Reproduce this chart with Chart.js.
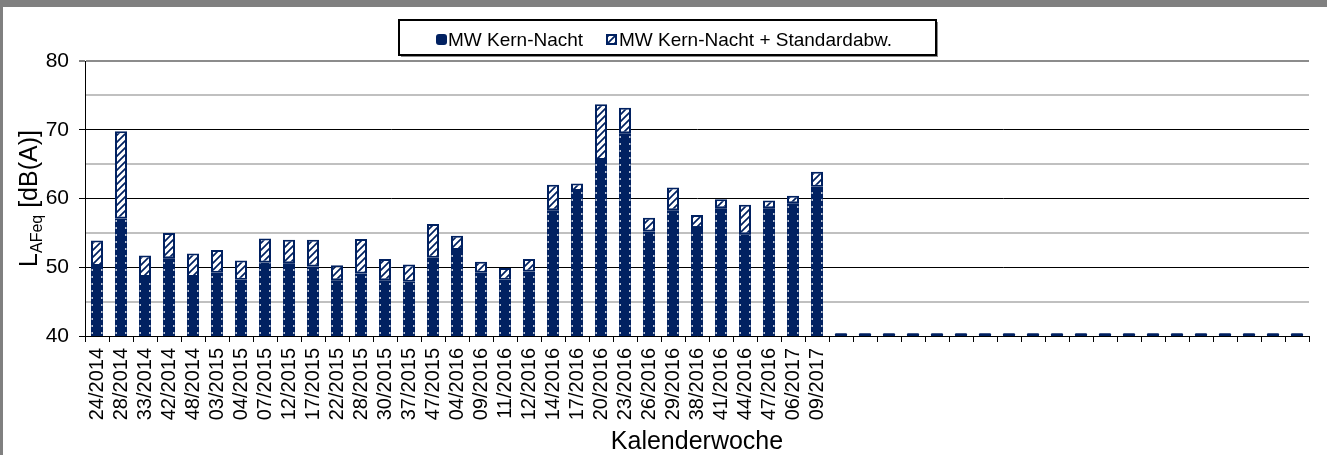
<!DOCTYPE html>
<html>
<head>
<meta charset="utf-8">
<script src="https://cdn.jsdelivr.net/npm/chart.js@4.4.1/dist/chart.umd.min.js"></script>
<style>
html,body{margin:0;padding:0;background:#fff;overflow:hidden;width:1327px;height:455px;}
#wrap{position:relative;width:1327px;height:455px;overflow:hidden;background:#fff;}
#c{position:absolute;left:0;top:0;width:1327px;height:455px;display:block;}
#frameTop{position:absolute;left:0;top:0;width:1327px;height:7px;background:#808080;}
#frameLeft{position:absolute;left:0;top:0;width:3px;height:455px;background:#808080;}
</style>
</head>
<body>
<div id="wrap">
  <canvas id="c" width="1327" height="455"></canvas>
  <div id="frameTop"></div>
  <div id="frameLeft"></div>
</div>
<script>
// ---- data ----
const kalenderwochen = [
  '24/2014','28/2014','33/2014','42/2014','48/2014','03/2015','04/2015','07/2015','12/2015','17/2015',
  '22/2015','28/2015','30/2015','37/2015','47/2015','04/2016','09/2016','11/2016','12/2016','14/2016',
  '17/2016','20/2016','23/2016','26/2016','29/2016','38/2016','41/2016','44/2016','47/2016','06/2017',
  '09/2017',
  '','','','','','','','','','','','','','','','','','','',''
];
// Mittelwert Kern-Nacht [dB(A)]
const mwKernNacht = [
  50.2, 57.1, 48.6, 51.3, 48.6, 49.2, 48.2, 50.7, 50.6, 50.1,
  48.1, 49.1, 48.1, 47.9, 51.4, 52.5, 49.2, 48.2, 49.4, 58.3,
  61.1, 65.6, 69.5, 55.2, 58.3, 55.7, 58.6, 54.8, 58.6, 59.3,
  61.7,
  40.4, 40.4, 40.4, 40.4, 40.4, 40.4, 40.4, 40.4, 40.4, 40.4,
  40.4, 40.4, 40.4, 40.4, 40.4, 40.4, 40.4, 40.4, 40.4, 40.4
];
// Standardabweichung (gestapelt auf MW) [dB]
const standardabw = [
  3.7, 12.7, 3.1, 3.7, 3.4, 3.3, 2.8, 3.5, 3.4, 3.9,
  2.2, 5.0, 3.1, 2.5, 4.9, 2.1, 1.6, 1.7, 1.8, 3.7,
  1.1, 8.1, 3.7, 2.0, 3.3, 1.9, 1.3, 4.3, 1.1, 1.1,
  2.2,
  null, null, null, null, null, null, null, null, null, null,
  null, null, null, null, null, null, null, null, null, null
];
const yTicks = { min: 40, max: 80, step: 5, labelStep: 10 };
const seriesLabels = ['MW Kern-Nacht', 'MW Kern-Nacht + Standardabw.'];
const axisTitleX = 'Kalenderwoche';

// ---- styles ----
const NAVY = '#012161';
const FONT = '"Liberation Sans", Arial, sans-serif';

function makeHatch() {
  const s = 7;
  const c = document.createElement('canvas');
  c.width = s; c.height = s;
  const g = c.getContext('2d');
  g.fillStyle = '#ffffff';
  g.fillRect(0, 0, s, s);
  g.strokeStyle = NAVY;
  g.lineWidth = 1.7;
  g.beginPath();
  g.moveTo(-1, s + 1); g.lineTo(s + 1, -1);
  g.moveTo(-1, 1); g.lineTo(1, -1);
  g.moveTo(s - 1, s + 1); g.lineTo(s + 1, s - 1);
  g.stroke();
  return g.createPattern(c, 'repeat');
}
const hatch = makeHatch();

// dotted white edges on the MW bars
const barEdgePlugin = {
  id: 'barEdges',
  afterDatasetsDraw(chart) {
    const ctx = chart.ctx;
    const meta = chart.getDatasetMeta(0);
    const area = chart.chartArea;
    ctx.save();
    ctx.beginPath();
    ctx.rect(area.left, area.top, area.right - area.left, area.bottom - area.top);
    ctx.clip();
    ctx.strokeStyle = 'rgba(255,255,255,0.85)';
    ctx.lineWidth = 1.3;
    ctx.setLineDash([2, 5]);
    meta.data.forEach((el, i) => {
      const v = mwKernNacht[i];
      if (v == null || v < 41) return;
      const p = el.getProps(['x', 'y', 'base', 'width'], true);
      const bottom = Math.min(p.base, area.bottom);
      [p.x - p.width / 2 + 1.2, p.x + p.width / 2 - 1.2].forEach(xx => {
        ctx.beginPath();
        ctx.moveTo(xx, bottom - 2);
        ctx.lineTo(xx, p.y + 1);
        ctx.stroke();
      });
    });
    ctx.restore();
  }
};

// legend box + y axis title (with subscript)
const decorPlugin = {
  id: 'decor',
  afterDraw(chart) {
    const ctx = chart.ctx;
    ctx.save();
    // legend
    const bx = 399, by = 20, bw = 537, bh = 35;
    ctx.fillStyle = '#8a8a8a';
    ctx.fillRect(bx + 2, by + 2, bw, bh);
    ctx.fillStyle = '#ffffff';
    ctx.fillRect(bx, by, bw, bh);
    ctx.strokeStyle = '#000';
    ctx.lineWidth = 2;
    ctx.strokeRect(bx, by, bw, bh);
    ctx.font = '19px ' + FONT;
    ctx.textBaseline = 'alphabetic';
    const ds = chart.data.datasets;
    // item 1
    ctx.fillStyle = NAVY;
    ctx.beginPath();
    if (ctx.roundRect) ctx.roundRect(436, 34, 11, 11, 3); else ctx.rect(436, 34, 11, 11);
    ctx.fill();
    ctx.fillStyle = '#000';
    ctx.fillText(ds[0].label, 448, 46);
    // item 2
    const x2 = 606;
    ctx.fillStyle = hatch;
    ctx.fillRect(x2, 34, 11, 11);
    ctx.strokeStyle = NAVY;
    ctx.lineWidth = 2;
    ctx.strokeRect(x2 + 1, 35, 9, 9);
    ctx.fillStyle = '#000';
    ctx.fillText(ds[1].label, x2 + 13, 46);

    // y axis title
    const a = chart.chartArea;
    const cy = (a.top + a.bottom) / 2;
    ctx.translate(37, cy);
    ctx.rotate(-Math.PI / 2);
    const fMain = '25px ' + FONT, fSub = '16px ' + FONT;
    ctx.font = fMain; const wL = ctx.measureText('L').width;
    const wRest = ctx.measureText(' [dB(A)]').width;
    ctx.font = fSub; const wSub = ctx.measureText('AFeq').width;
    let x0 = -(wL + wSub + wRest) / 2;
    ctx.fillStyle = '#000';
    ctx.font = fMain; ctx.fillText('L', x0, 0);
    ctx.font = fSub; ctx.fillText('AFeq', x0 + wL, 5);
    ctx.font = fMain; ctx.fillText(' [dB(A)]', x0 + wL + wSub, 0);
    ctx.restore();
  }
};

function gridColor(ctx) {
  const v = ctx.tick ? ctx.tick.value : null;
  if (v === yTicks.min) return '#000';
  if (v === yTicks.max) return '#8c8c8c';
  if (v % yTicks.labelStep === 0) return '#000';
  return '#c0c0c0';
}
function gridWidth(ctx) {
  const v = ctx.tick ? ctx.tick.value : null;
  if (v === yTicks.max) return 2;
  if (v % yTicks.labelStep === 0) return 1;
  return 2;
}
function tickColor(ctx) {
  const v = ctx.tick ? ctx.tick.value : null;
  return (v % yTicks.labelStep === 0) ? '#000' : 'rgba(0,0,0,0)';
}

new Chart(document.getElementById('c'), {
  type: 'bar',
  data: {
    labels: kalenderwochen,
    datasets: [
      {
        label: seriesLabels[0],
        data: mwKernNacht,
        backgroundColor: NAVY,
        borderWidth: 0,
        borderRadius: 1,
        barPercentage: 0.5,
        categoryPercentage: 1.0,
        clip: 0
      },
      {
        label: seriesLabels[1],
        data: standardabw,
        backgroundColor: hatch,
        borderColor: NAVY,
        borderWidth: 2,
        borderSkipped: false,
        barPercentage: 0.5,
        categoryPercentage: 1.0,
        clip: 0
      }
    ]
  },
  options: {
    responsive: false,
    devicePixelRatio: 1,
    animation: false,
    events: [],
    layout: { padding: { left: 0, right: 18, top: 61, bottom: 0 } },
    plugins: {
      legend: { display: false },
      title: { display: false },
      tooltip: { enabled: false }
    },
    scales: {
      x: {
        stacked: true,
        offset: true,
        grid: {
          offset: true,
          drawOnChartArea: false,
          drawTicks: true,
          tickLength: 6,
          color: '#000',
          tickColor: '#000',
          tickWidth: 1
        },
        border: { display: true, color: '#000', width: 1 },
        ticks: {
          autoSkip: false,
          minRotation: 90,
          maxRotation: 90,
          padding: 6,
          color: '#000',
          font: { family: FONT, size: 20 }
        },
        title: {
          display: true,
          text: axisTitleX,
          color: '#000',
          font: { family: FONT, size: 25, lineHeight: 1 },
          padding: { top: 0, bottom: 0 }
        },
        afterFit(scale) {
          scale.height = 119;
          scale.paddingLeft = 0;
          scale.paddingRight = 0;
        }
      },
      y: {
        stacked: true,
        min: yTicks.min,
        max: yTicks.max,
        ticks: {
          stepSize: yTicks.step,
          padding: 10,
          color: '#000',
          font: { family: FONT, size: 21 },
          callback: v => (v % yTicks.labelStep === 0 ? String(v) : '')
        },
        grid: {
          color: gridColor,
          lineWidth: gridWidth,
          tickColor: tickColor,
          tickWidth: 1,
          tickLength: 6,
          drawTicks: true
        },
        border: { display: true, color: '#000', width: 1 },
        afterFit(scale) {
          scale.width = 85;
          scale.paddingTop = 0;
          scale.paddingBottom = 0;
        }
      }
    }
  },
  plugins: [barEdgePlugin, decorPlugin]
});
</script>
</body>
</html>
